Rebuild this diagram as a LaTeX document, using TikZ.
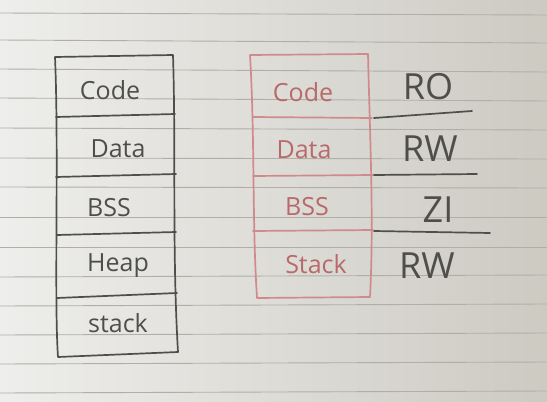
\documentclass[tikz,border=0pt]{standalone}
\usepackage{fontspec}
\setmainfont{Open Sans}
\begin{document}
\begin{tikzpicture}[x=1pt,y=-1pt,
  ink/.style={draw=inkgray,line width=1.7pt,line cap=round,line join=round},
  redink/.style={draw=inkred,line width=1.7pt,line cap=round,line join=round},
  rule/.style={draw=rulegray,line width=0.9pt},
  lbl/.style={text=inkgray,font=\fontsize{25}{29}\selectfont,inner sep=0pt},
  rlbl/.style={text=textred,font=\fontsize{25}{29}\selectfont,inner sep=0pt},
  acc/.style={text=inkgray,font=\fontsize{36}{40}\selectfont,inner sep=0pt}]
\definecolor{inkgray}{HTML}{4E4E4B}
\definecolor{inkred}{HTML}{D08A8C}
\definecolor{textred}{HTML}{B86A6A}
\definecolor{rulegray}{HTML}{B0AEA7}
\definecolor{paperL}{HTML}{EEEEEC}
\definecolor{paperR}{HTML}{CDCAC2}
\useasboundingbox (0,0) rectangle (547,402);
\shade[left color=paperL,right color=paperR] (0,0) rectangle (547,402);
% paper rules
\foreach \y/\z in {13/15,40/43,69/72,98/101,128/130,158/159,187/188,217/217,247/247,277/275,306/304,335/333,364/362,393/391}
  \draw[rule] (0,\y) -- (547,\z);
% left box
\draw[ink] (55,57) -- (173,55) .. controls (176,150) and (172,250) .. (178,352) -- (58,357)
  .. controls (54,300) and (59,150) .. (55,57) -- cycle;
\draw[ink] (56,117) -- (175,114);
\draw[ink] (56,177) -- (176,174);
\draw[ink] (57,235) -- (176,232);
\draw[ink] (57,298) -- (177,293);
% right box
\draw[redink] (250,55) -- (368,54) .. controls (370,140) and (374,220) .. (370,297) -- (257,298)
  .. controls (252,220) and (255,140) .. (250,55);
\draw[redink] (253,117) -- (372,118);
\draw[redink] (253,176) -- (373,175);
\draw[redink] (253,231) -- (373,230);
% access lines
\coordinate (a1) at (472,111);
\coordinate (a2) at (477,174);
\coordinate (a3) at (490,233);
\coordinate (b1) at (374,118);
\coordinate (b2) at (374,175);
\coordinate (b3) at (374,231);
\draw[ink] (b1) -- (a1);
\draw[ink] (b2) -- (a2);
\draw[ink] (b3) -- (a3);
% left labels
\node[lbl] (lcode) at (110,90) {Code};
\node[lbl] (ldata) at (118,149) {Data};
\node[lbl] (lbss) at (109,208) {BSS};
\node[lbl] (lheap) at (118,266) {Heap};
\node[lbl] (lstack) at (118,323) {stack};
% right labels
\node[rlbl] (rcode) at (303,92) {Code};
\node[rlbl] (rdata) at (304,150) {Data};
\node[rlbl] (rbss) at (307,207) {BSS};
\node[rlbl] (rstack) at (316,264) {Stack};
% access labels
\node[acc] (ro) at (428,87) {RO};
\node[acc] (rw1) at (430,149) {RW};
\node[acc] (zi) at (438,210) {ZI};
\node[acc] (rw2) at (427,266) {RW};
\end{tikzpicture}
\end{document}
